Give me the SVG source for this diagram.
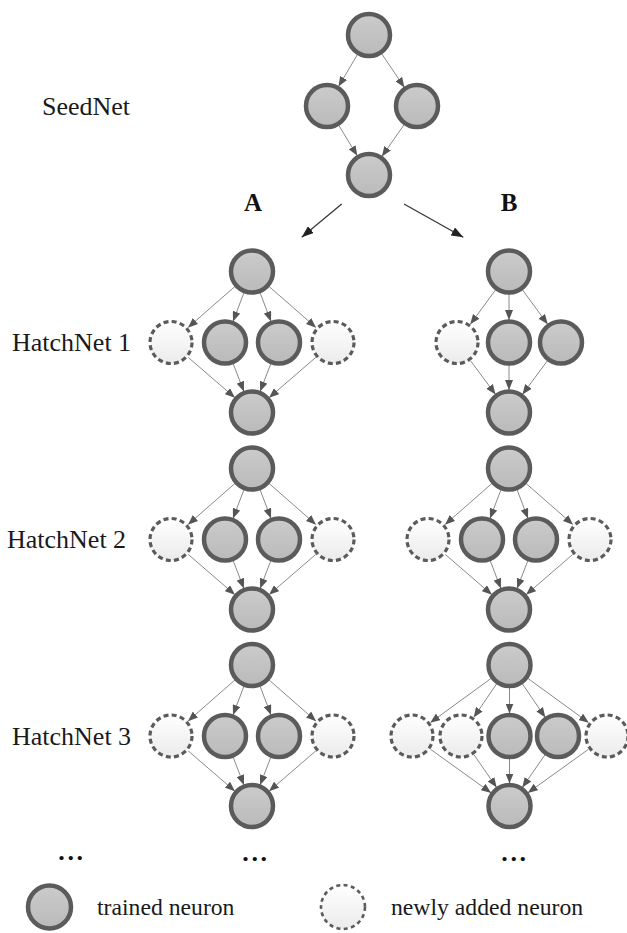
<svg xmlns="http://www.w3.org/2000/svg" width="627" height="933" viewBox="0 0 627 933">
  <style>
    .lbl { font-family: "Liberation Serif", "Times New Roman", serif; font-size: 26px; fill: #1a1a1a; }
    .hdr { font-family: "Liberation Serif", "Times New Roman", serif; font-size: 25px; font-weight: bold; fill: #111; }
    .dots { font-family: "Liberation Serif", "Times New Roman", serif; font-size: 26px; font-weight: bold; fill: #111; letter-spacing: 2.7px; }
    .leg { font-family: "Liberation Serif", "Times New Roman", serif; font-size: 23.7px; fill: #1a1a1a; }
    .n circle { fill: url(#gSolid); stroke: #5b5b5b; stroke-width: 4.5; }
    .d .under { fill: #fff; stroke: #fff; stroke-width: 4; }
    .d .ring { fill: url(#gNew); stroke: #5b5b5b; stroke-width: 3.2; stroke-dasharray: 5 3.25; }
    .e line { stroke: #8a8a8a; stroke-width: 1; marker-end: url(#ah); }
    .big line { stroke: #333; stroke-width: 1.2; marker-end: url(#ahBig); }
  </style>
  <defs>
    <linearGradient id="gSolid" x1="0" y1="0" x2="0" y2="1">
      <stop offset="0" stop-color="#cbcbcb"/>
      <stop offset="1" stop-color="#bababa"/>
    </linearGradient>
    <linearGradient id="gNew" x1="0" y1="0" x2="0" y2="1">
      <stop offset="0" stop-color="#ffffff"/>
      <stop offset="1" stop-color="#ebebeb"/>
    </linearGradient>
    <marker id="ah" viewBox="0 0 10 8" refX="10" refY="4" markerWidth="10" markerHeight="8" markerUnits="userSpaceOnUse" orient="auto">
      <path d="M0,0 L10,4 L0,8 z" fill="#555"/>
    </marker>
    <marker id="ahBig" viewBox="0 0 12 9" refX="12" refY="4.5" markerWidth="12" markerHeight="9" markerUnits="userSpaceOnUse" orient="auto">
      <path d="M0,0 L12,4.5 L0,9 z" fill="#222"/>
    </marker>
  </defs>

  <!-- connectors -->
  <g id="connectors">
    <g class="e" id="seednet-edges">
      <line x1="357.5" y1="54.4" x2="338.5" y2="86.6"/>
      <line x1="381.6" y1="53.6" x2="404.4" y2="87.4"/>
      <line x1="338.7" y1="125.2" x2="357.3" y2="155.8"/>
      <line x1="404.2" y1="124.5" x2="381.9" y2="156.5"/>
    </g>
    <g class="big" id="branch-edges">
      <line x1="341.7" y1="204" x2="301.7" y2="237.3"/>
      <line x1="404" y1="204" x2="463.3" y2="237.3"/>
    </g>
    <!-- four-wide layer, column A, HatchNet 1 -->
    <g class="e" transform="translate(252,271.5)">
      <line x1="-16.92" y1="14.83" x2="-64.08" y2="56.17"/>
      <line x1="-8" y1="21.03" x2="-19" y2="49.97"/>
      <line x1="8" y1="21.03" x2="19" y2="49.97"/>
      <line x1="16.92" y1="14.83" x2="64.08" y2="56.17"/>
      <line x1="-63.98" y1="85.71" x2="-17.02" y2="126.29"/>
      <line x1="-18.9" y1="91.99" x2="-8.1" y2="120.01"/>
      <line x1="18.9" y1="91.99" x2="8.1" y2="120.01"/>
      <line x1="63.98" y1="85.71" x2="17.02" y2="126.29"/>
    </g>
    <!-- column A, HatchNet 2 -->
    <g class="e" transform="translate(252,468.5)">
      <line x1="-16.92" y1="14.83" x2="-64.08" y2="56.17"/>
      <line x1="-8" y1="21.03" x2="-19" y2="49.97"/>
      <line x1="8" y1="21.03" x2="19" y2="49.97"/>
      <line x1="16.92" y1="14.83" x2="64.08" y2="56.17"/>
      <line x1="-63.98" y1="85.71" x2="-17.02" y2="126.29"/>
      <line x1="-18.9" y1="91.99" x2="-8.1" y2="120.01"/>
      <line x1="18.9" y1="91.99" x2="8.1" y2="120.01"/>
      <line x1="63.98" y1="85.71" x2="17.02" y2="126.29"/>
    </g>
    <!-- column A, HatchNet 3 -->
    <g class="e" transform="translate(252,665)">
      <line x1="-16.92" y1="14.83" x2="-64.08" y2="56.17"/>
      <line x1="-8" y1="21.03" x2="-19" y2="49.97"/>
      <line x1="8" y1="21.03" x2="19" y2="49.97"/>
      <line x1="16.92" y1="14.83" x2="64.08" y2="56.17"/>
      <line x1="-63.98" y1="85.71" x2="-17.02" y2="126.29"/>
      <line x1="-18.9" y1="91.99" x2="-8.1" y2="120.01"/>
      <line x1="18.9" y1="91.99" x2="8.1" y2="120.01"/>
      <line x1="63.98" y1="85.71" x2="17.02" y2="126.29"/>
    </g>
    <!-- column B, HatchNet 1 (three-wide) -->
    <g class="e" transform="translate(509,271.5)">
      <line x1="-13.29" y1="18.15" x2="-38.71" y2="52.85"/>
      <line x1="0" y1="22.5" x2="0" y2="48.5"/>
      <line x1="13.29" y1="18.15" x2="38.71" y2="52.85"/>
      <line x1="-38.58" y1="89.06" x2="-13.42" y2="122.94"/>
      <line x1="0" y1="93.5" x2="0" y2="118.5"/>
      <line x1="38.58" y1="89.06" x2="13.42" y2="122.94"/>
    </g>
    <!-- column B, HatchNet 2 (four-wide) -->
    <g class="e" transform="translate(509,468.5)">
      <line x1="-16.92" y1="14.83" x2="-64.08" y2="56.17"/>
      <line x1="-8" y1="21.03" x2="-19" y2="49.97"/>
      <line x1="8" y1="21.03" x2="19" y2="49.97"/>
      <line x1="16.92" y1="14.83" x2="64.08" y2="56.17"/>
      <line x1="-63.98" y1="85.71" x2="-17.02" y2="126.29"/>
      <line x1="-18.9" y1="91.99" x2="-8.1" y2="120.01"/>
      <line x1="18.9" y1="91.99" x2="8.1" y2="120.01"/>
      <line x1="63.98" y1="85.71" x2="17.02" y2="126.29"/>
    </g>
    <!-- column B, HatchNet 3 (five-wide) -->
    <g class="e" transform="translate(509.5,665)">
      <line x1="-18.19" y1="13.25" x2="-79.31" y2="57.75"/>
      <line x1="-12.69" y1="18.58" x2="-35.81" y2="52.42"/>
      <line x1="0" y1="22.5" x2="0" y2="48.5"/>
      <line x1="12.69" y1="18.58" x2="35.81" y2="52.42"/>
      <line x1="18.19" y1="13.25" x2="79.31" y2="57.75"/>
      <line x1="-79.22" y1="84.12" x2="-18.28" y2="127.88"/>
      <line x1="-35.69" y1="89.5" x2="-12.81" y2="122.5"/>
      <line x1="0" y1="93.5" x2="0" y2="118.5"/>
      <line x1="35.69" y1="89.5" x2="12.81" y2="122.5"/>
      <line x1="79.22" y1="84.12" x2="18.28" y2="127.88"/>
    </g>
  </g>

  <!-- SeedNet -->
  <g id="seed-top" class="n"><circle cx="369" cy="35" r="21"/></g>
  <g id="seed-left" class="n"><circle cx="327" cy="106" r="21"/></g>
  <g id="seed-right" class="n"><circle cx="417" cy="106" r="21"/></g>
  <g id="seed-bottom" class="n"><circle cx="369" cy="175" r="21"/></g>

  <!-- column A, HatchNet 1 -->
  <g id="a1-top" class="n"><circle cx="252" cy="271.5" r="21"/></g>
  <g id="a1-new1" class="d"><circle class="under" cx="171" cy="342.5" r="21"/><circle class="ring" cx="171" cy="342.5" r="21"/></g>
  <g id="a1-mid1" class="n"><circle cx="225" cy="342.5" r="21"/></g>
  <g id="a1-mid2" class="n"><circle cx="279" cy="342.5" r="21"/></g>
  <g id="a1-new2" class="d"><circle class="under" cx="333" cy="342.5" r="21"/><circle class="ring" cx="333" cy="342.5" r="21"/></g>
  <g id="a1-bottom" class="n"><circle cx="252" cy="412.5" r="21"/></g>

  <!-- column A, HatchNet 2 -->
  <g id="a2-top" class="n"><circle cx="252" cy="468.5" r="21"/></g>
  <g id="a2-new1" class="d"><circle class="under" cx="171" cy="539.5" r="21"/><circle class="ring" cx="171" cy="539.5" r="21"/></g>
  <g id="a2-mid1" class="n"><circle cx="225" cy="539.5" r="21"/></g>
  <g id="a2-mid2" class="n"><circle cx="279" cy="539.5" r="21"/></g>
  <g id="a2-new2" class="d"><circle class="under" cx="333" cy="539.5" r="21"/><circle class="ring" cx="333" cy="539.5" r="21"/></g>
  <g id="a2-bottom" class="n"><circle cx="252" cy="609.5" r="21"/></g>

  <!-- column A, HatchNet 3 -->
  <g id="a3-top" class="n"><circle cx="252" cy="665" r="21"/></g>
  <g id="a3-new1" class="d"><circle class="under" cx="171" cy="736" r="21"/><circle class="ring" cx="171" cy="736" r="21"/></g>
  <g id="a3-mid1" class="n"><circle cx="225" cy="736" r="21"/></g>
  <g id="a3-mid2" class="n"><circle cx="279" cy="736" r="21"/></g>
  <g id="a3-new2" class="d"><circle class="under" cx="333" cy="736" r="21"/><circle class="ring" cx="333" cy="736" r="21"/></g>
  <g id="a3-bottom" class="n"><circle cx="252" cy="806" r="21"/></g>

  <!-- column B, HatchNet 1 -->
  <g id="b1-top" class="n"><circle cx="509" cy="271.5" r="21"/></g>
  <g id="b1-new1" class="d"><circle class="under" cx="457" cy="342.5" r="21"/><circle class="ring" cx="457" cy="342.5" r="21"/></g>
  <g id="b1-mid1" class="n"><circle cx="509" cy="342.5" r="21"/></g>
  <g id="b1-mid2" class="n"><circle cx="561" cy="342.5" r="21"/></g>
  <g id="b1-bottom" class="n"><circle cx="509" cy="412.5" r="21"/></g>

  <!-- column B, HatchNet 2 -->
  <g id="b2-top" class="n"><circle cx="509" cy="468.5" r="21"/></g>
  <g id="b2-new1" class="d"><circle class="under" cx="428" cy="539.5" r="21"/><circle class="ring" cx="428" cy="539.5" r="21"/></g>
  <g id="b2-mid1" class="n"><circle cx="482" cy="539.5" r="21"/></g>
  <g id="b2-mid2" class="n"><circle cx="536" cy="539.5" r="21"/></g>
  <g id="b2-new2" class="d"><circle class="under" cx="590" cy="539.5" r="21"/><circle class="ring" cx="590" cy="539.5" r="21"/></g>
  <g id="b2-bottom" class="n"><circle cx="509" cy="609.5" r="21"/></g>

  <!-- column B, HatchNet 3 -->
  <g id="b3-top" class="n"><circle cx="509.5" cy="665" r="21"/></g>
  <g id="b3-new1" class="d"><circle class="under" cx="412" cy="736" r="21"/><circle class="ring" cx="412" cy="736" r="21"/></g>
  <g id="b3-new2" class="d"><circle class="under" cx="461" cy="736" r="21"/><circle class="ring" cx="461" cy="736" r="21"/></g>
  <g id="b3-mid1" class="n"><circle cx="509.5" cy="736" r="21"/></g>
  <g id="b3-mid2" class="n"><circle cx="558" cy="736" r="21"/></g>
  <g id="b3-new3" class="d"><circle class="under" cx="607" cy="736" r="21"/><circle class="ring" cx="607" cy="736" r="21"/></g>
  <g id="b3-bottom" class="n"><circle cx="509.5" cy="806" r="21"/></g>

  <!-- row labels -->
  <g id="labels">
    <text class="lbl" x="42" y="115">SeedNet</text>
    <text class="lbl" x="12" y="350.5">HatchNet 1</text>
    <text class="lbl" x="7" y="548">HatchNet 2</text>
    <text class="lbl" x="12" y="744.5">HatchNet 3</text>
    <text class="hdr" x="253" y="211" text-anchor="middle">A</text>
    <text class="hdr" x="509" y="211" text-anchor="middle">B</text>
    <text class="dots" x="72" y="860" text-anchor="middle">...</text>
    <text class="dots" x="256" y="861" text-anchor="middle">...</text>
    <text class="dots" x="515" y="861" text-anchor="middle">...</text>
  </g>

  <!-- legend -->
  <g id="legend-trained" class="n"><circle cx="49.5" cy="907" r="21.5"/></g>
  <g id="legend-new">
    <circle cx="343" cy="907" r="22" fill="url(#gNew)" stroke="#5b5b5b" stroke-width="2.6" stroke-dasharray="4 3.4"/>
  </g>
  <g id="legend-text">
    <text class="leg" x="97" y="915">trained neuron</text>
    <text class="leg" x="391" y="915">newly added neuron</text>
  </g>
</svg>
